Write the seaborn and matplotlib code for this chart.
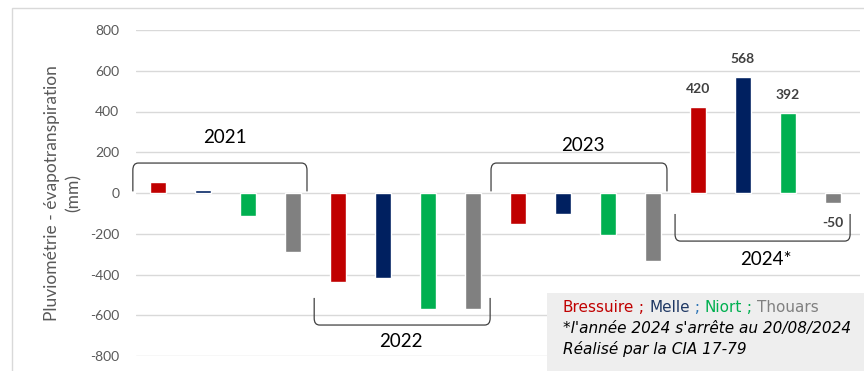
import matplotlib
matplotlib.use("Agg")
import matplotlib.pyplot as plt
from matplotlib.patches import Rectangle, PathPatch
from matplotlib.path import Path
from matplotlib.text import Annotation
import seaborn as sns
import pandas as pd

years = ["2021", "2022", "2023", "2024"]
cities = ["Bressuire", "Melle", "Niort", "Thouars"]
bressuire = [55, -435, -150, 420]
melle = [15, -415, -105, 568]
niort = [-115, -570, -205, 392]
thouars = [-290, -570, -335, -50]
colors = ["#C00000", "#002060", "#00B050", "#808080"]
yticks = [-800, -600, -400, -200, 0, 200, 400, 600, 800]
year_labels = ["2021", "2022", "2023", "2024*"]

series = [bressuire, melle, niort, thouars]
rows = []
for yi, yr in enumerate(years):
    for ci, c in enumerate(cities):
        rows.append({"pos": yi * 4 + ci, "year": yr, "city": c, "value": series[ci][yi]})
df = pd.DataFrame(rows)

sns.set_theme(style="white")
plt.rcParams["font.family"] = ["Lato", "DejaVu Sans"]

fig = plt.figure(figsize=(8.64, 3.71), dpi=100)
ax = fig.add_axes([136 / 864, 1 - 356 / 371, (860 - 136) / 864, (356 - 30) / 371])

sns.barplot(data=df, x="pos", y="value", hue="city", palette=colors, saturation=1,
            dodge=False, width=0.34, ax=ax, legend=False, order=list(range(16)))

ax.set_ylim(-800, 800)
ax.set_xlim(-0.49, 15.6)
ax.set_yticks(yticks)
ax.set_yticklabels([str(t) for t in yticks], color="#595959", fontsize=10)
ax.set_xticks([])
ax.set_xlabel("")
ax.set_ylabel("Pluviométrie - évapotranspiration\n(mm)", color="#595959", fontsize=12.5,
              labelpad=6, linespacing=1.45)
ax.tick_params(axis="y", length=0, pad=12)
for s in ax.spines.values():
    s.set_visible(False)
ax.yaxis.grid(True, color="#D9D9D9", linewidth=1)
ax.set_axisbelow(True)


def bracket(x0, x1, yflat, yend):
    dx = 0.12
    dy = (yflat - yend) * 0.25
    verts = [(x0, yend), (x0, yflat - dy), (x0, yflat), (x0 + dx, yflat),
             (x1 - dx, yflat), (x1, yflat), (x1, yflat - dy), (x1, yend)]
    codes = [Path.MOVETO, Path.LINETO, Path.CURVE3, Path.CURVE3,
             Path.LINETO, Path.CURVE3, Path.CURVE3, Path.LINETO]
    ax.add_patch(PathPatch(Path(verts, codes), fill=False, edgecolor="#404040",
                           lw=0.9, clip_on=False))


bracket(-0.56, 3.31, 147, 8)
bracket(3.47, 7.38, -648, -515)
bracket(7.40, 11.31, 147, 8)
bracket(11.49, 15.38, -236, -103)
ax.text(1.49, 270, year_labels[0], ha="center", va="center", fontsize=13.5, color="black")
ax.text(5.40, -727, year_labels[1], ha="center", va="center", fontsize=13.5, color="black")
ax.text(9.44, 231, year_labels[2], ha="center", va="center", fontsize=13.5, color="black")
ax.text(13.50, -324, year_labels[3], ha="center", va="center", fontsize=13.5, color="black")

for ci in range(4):
    v = series[ci][3]
    pos = 12 + ci
    off = 13 if v >= 0 else -14
    ax.annotate(str(v), xy=(pos, v), xytext=(0, off), textcoords="offset points",
                ha="center", va="center", fontsize=10, fontweight="bold", color="#404040")

fig.patches.append(Rectangle((12 / 864, -0.01), 1, 1 - 8 / 371 + 0.01, transform=fig.transFigure,
                             fill=False, edgecolor="#D9D9D9", lw=1))
fig.patches.append(Rectangle((547 / 864, 0), 1, 78 / 371, transform=fig.transFigure,
                             facecolor="#EEEEEE", edgecolor="none", zorder=5))

fs = 11
prev = fig.text(563 / 864, 1 - 308 / 371, "Bressuire", color="#C00000", fontsize=fs,
                family="DejaVu Sans", va="center", zorder=6)
for txt, col in [(" ; ", "#C00000"), ("Melle", "#1F3864"), (" ; ", "#2E75B6"),
                 ("Niort", "#00B050"), (" ; ", "#00B050"), ("Thouars", "#808080")]:
    a = Annotation(txt, xy=(1, 0.5), xycoords=prev, ha="left", va="center", color=col,
                   fontsize=fs, family="DejaVu Sans", zorder=6, annotation_clip=False)
    fig.add_artist(a)
    prev = a
fig.text(563 / 864, 1 - 328 / 371, "*l'année 2024 s'arrête au 20/08/2024", color="black",
         fontsize=fs, family="DejaVu Sans", style="italic", va="center", zorder=6)
fig.text(563 / 864, 1 - 349 / 371, "Réalisé par la CIA 17-79", color="black",
         fontsize=fs, family="DejaVu Sans", style="italic", va="center", zorder=6)

fig.savefig("out.png", dpi=100)
